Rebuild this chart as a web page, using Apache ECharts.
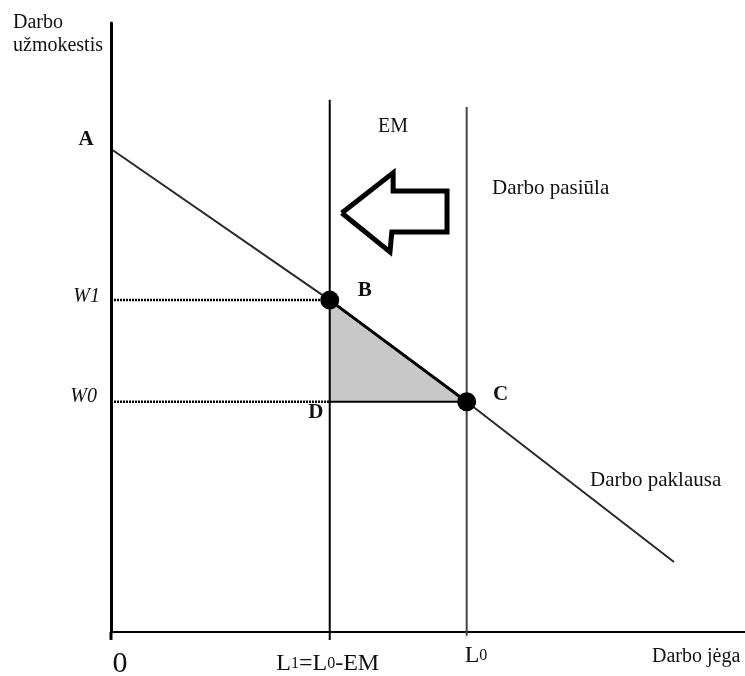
<!DOCTYPE html>
<html>
<head>
<meta charset="utf-8">
<script src="https://cdn.jsdelivr.net/npm/echarts@6/dist/echarts.min.js"></script>
<style>
  html, body { margin: 0; padding: 0; background: #fff; }
  #main { width: 745px; height: 676px; }
</style>
</head>
<body>
<div id="main"></div>
<script>
// demand curve (abstract units, 0..100 on both axes)
const demandX = [0.3, 34.5, 56.1, 88.8];
const demandY = [79.1, 54.5, 37.8, 11.5];
// quantities and wages
const L1 = 34.5, L0 = 56.1;
const W1 = 54.5, W0 = 37.8;
// how high the two vertical lines go
const emTop = 87.4, supplyTop = 86.2;
// outlined arrow pointing left (EM shift)
const arrowX = [36.4, 44.5, 44.5, 53.0, 53.0, 44.3, 44.0, 36.4];
const arrowY = [68.8, 75.4, 72.4, 72.4, 65.7, 65.7, 62.4, 68.8];

const font = '"Liberation Serif", "DejaVu Serif", serif';
const ink = '#111';

const chart = echarts.init(document.getElementById('main'));

function pairs(xs, ys) {
  return xs.map((x, i) => [x, ys[i]]);
}
function seg(data, color, width, type) {
  return {
    type: 'line', data: data, symbol: 'none', clip: false, silent: true,
    lineStyle: { color: color, width: width, type: type || 'solid' },
    z: 3
  };
}

const option = {
  animation: false,
  backgroundColor: '#fff',
  grid: { left: 111, right: 0, top: 23, bottom: 44 },
  xAxis: {
    type: 'value', min: 0, max: 100,
    axisLine: { show: true, lineStyle: { color: '#000', width: 2 } },
    axisTick: { show: false }, axisLabel: { show: false }, splitLine: { show: false }
  },
  yAxis: {
    type: 'value', min: 0, max: 100,
    axisLine: { show: true, lineStyle: { color: '#000', width: 3 } },
    axisTick: { show: false }, axisLabel: { show: false }, splitLine: { show: false }
  },
  series: [
    {
      // shaded triangle B-D-C
      type: 'custom',
      silent: true,
      z: 1,
      renderItem: function (params, api) {
        const b = api.coord([L1, W1]);
        const d = api.coord([L1, W0]);
        const c = api.coord([L0, W0]);
        return {
          type: 'polygon',
          shape: { points: [b, d, c] },
          style: { fill: '#c8c8c8' }
        };
      },
      data: [0]
    },
    seg(pairs(demandX, demandY), '#2a2a2a', 2),
    seg([[L1, W1], [L0, W0]], '#000', 3),
    seg([[L1, -1.3], [L1, emTop]], '#000', 2),
    seg([[L0, -0.6], [L0, supplyTop]], '#444', 2),
    seg([[0, -1.3], [0, 0]], '#000', 3),
    seg([[0, W1], [L1, W1]], '#000', 2.5, [2, 1]),
    seg([[0, W0], [L1, W0]], '#000', 2.5, [2, 1]),
    seg([[L1, W0], [L0, W0]], '#000', 2),
    {
      type: 'line', data: pairs(arrowX, arrowY), symbol: 'none', silent: true,
      lineStyle: { color: '#000', width: 5, join: 'miter' }, z: 4
    },
    {
      type: 'scatter', data: [[L1, W1], [L0, W0]], symbolSize: 19,
      itemStyle: { color: '#000', opacity: 1 }, silent: true, z: 5
    }
  ]
};
chart.setOption(option);

const px = (x, y) => chart.convertToPixel({ gridIndex: 0 }, [x, y]);
const pB = px(L1, W1), pC = px(L0, W0), pO = px(0, 0);

function txt(x, y, text, opts) {
  return {
    type: 'text', x: x, y: y, z: 10, silent: true,
    style: Object.assign({
      text: text, font: '21px ' + font, fill: ink,
      textAlign: 'left', textVerticalAlign: 'middle'
    }, opts || {})
  };
}
const bold = 'bold 21px ' + font;
const italic = 'italic 20px ' + font;

chart.setOption({
  graphic: [
    txt(13, 11, 'Darbo\nužmokestis', { font: '20px ' + font, textVerticalAlign: 'top', lineHeight: 23 }),
    txt(86, 140, 'A', { font: bold, textAlign: 'center' }),
    txt(pO[0] - 11, pB[1] - 3, 'W1', { font: italic, textAlign: 'right' }),
    txt(pO[0] - 14, pC[1] - 5, 'W0', { font: italic, textAlign: 'right' }),
    txt(pB[0] + 35, pB[1] - 10, 'B', { font: bold, textAlign: 'center' }),
    txt(pC[0] + 34, pC[1] - 7, 'C', { font: bold, textAlign: 'center' }),
    txt(pB[0] - 14, pC[1] + 11, 'D', { font: bold, textAlign: 'center' }),
    txt(393, 127, 'EM', { font: '20px ' + font, textAlign: 'center' }),
    txt(492, 188, 'Darbo pasiūla'),
    txt(590, 480, 'Darbo paklausa'),
    txt(pO[0] + 9, 664, '0', { font: '30px ' + font, textAlign: 'center' }),
    {
      type: 'text', x: pB[0] - 2, y: 664, z: 10, silent: true,
      style: {
        text: '{a|L}{s|1}{a|=L}{s|0}{a|-EM}', textAlign: 'center', textVerticalAlign: 'middle',
        rich: {
          a: { font: '24px ' + font, fill: ink },
          s: { font: '16px ' + font, fill: ink }
        }
      }
    },
    {
      type: 'text', x: pC[0] - 2, y: 656, z: 10, silent: true,
      style: {
        text: '{a|L}{s|0}', textAlign: 'left', textVerticalAlign: 'middle',
        rich: {
          a: { font: '24px ' + font, fill: ink },
          s: { font: '16px ' + font, fill: ink }
        }
      }
    },
    txt(652, 657, 'Darbo jėga', { font: '20px ' + font })
  ]
});
</script>
</body>
</html>
